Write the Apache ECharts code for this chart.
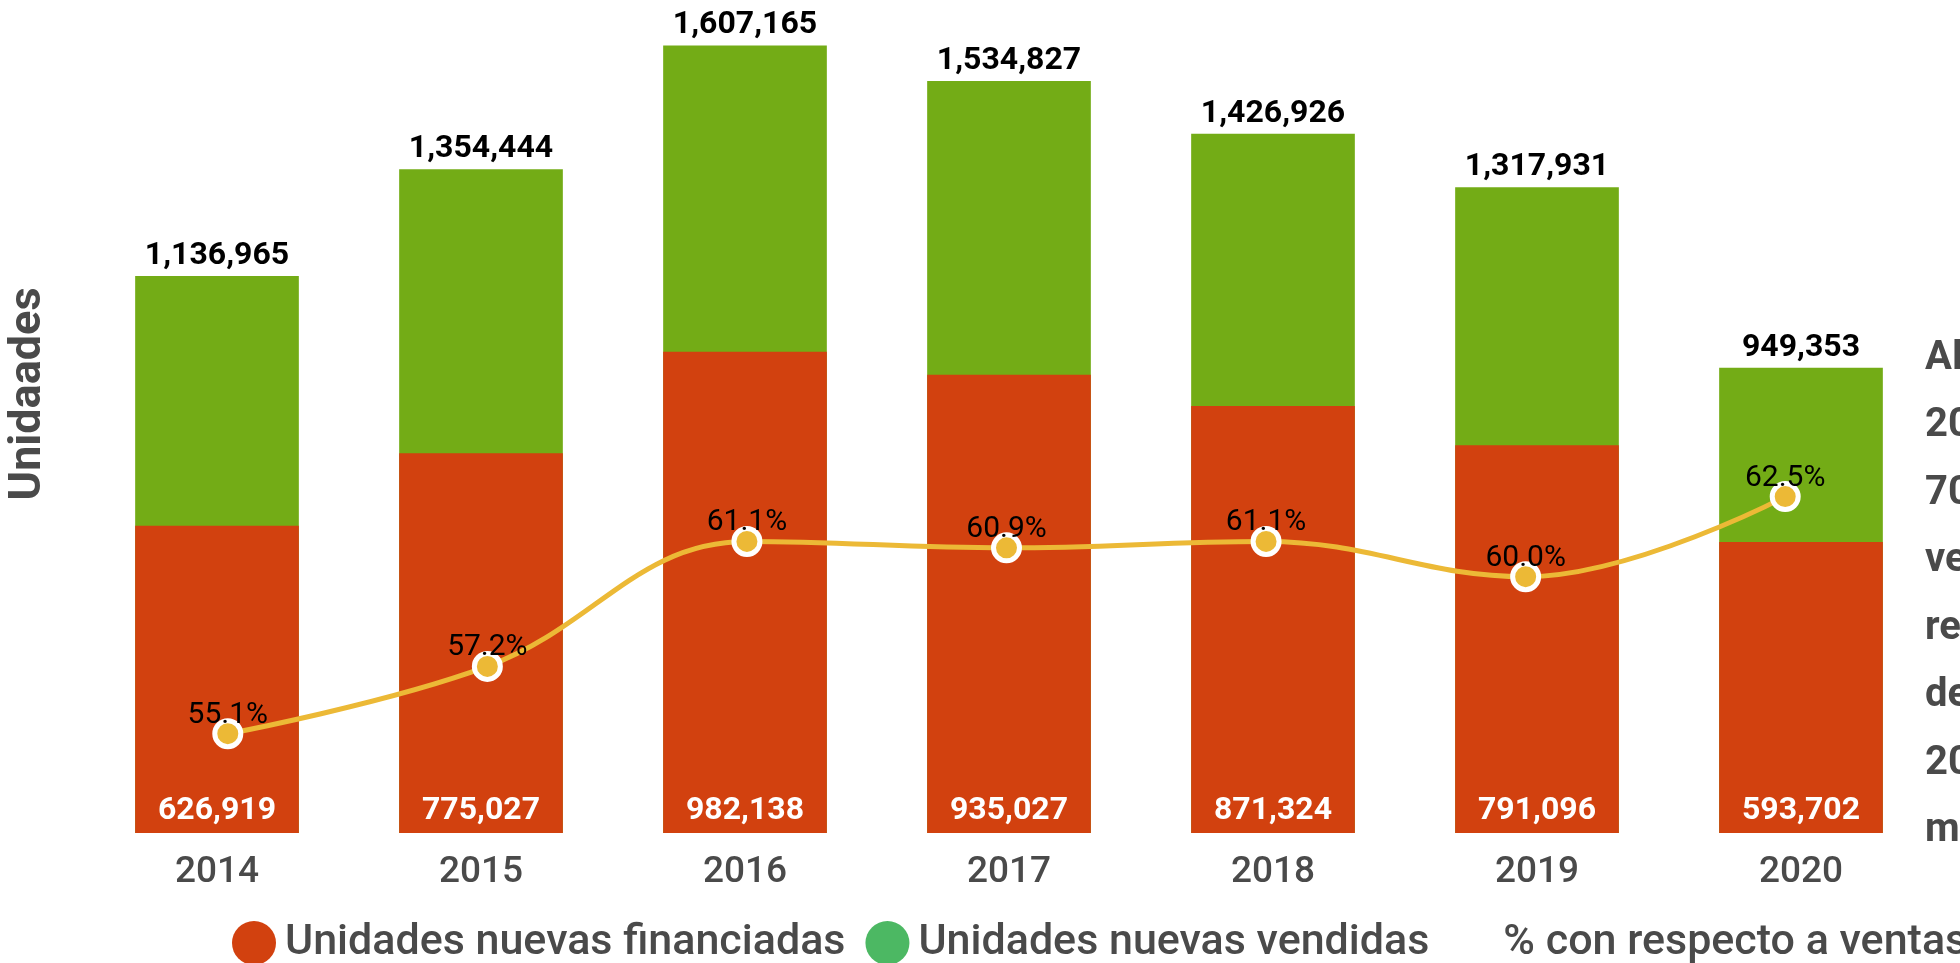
<!DOCTYPE html>
<html>
<head>
<meta charset="utf-8">
<script src="https://cdn.jsdelivr.net/npm/echarts@6/dist/echarts.min.js"></script>
<style>
  html, body { margin: 0; padding: 0; background: #fff; }
  #chart { width: 1960px; height: 963px; }
</style>
</head>
<body>
<div id="chart"></div>
<script>
// datos
var years = ['2014', '2015', '2016', '2017', '2018', '2019', '2020'];
var financiadas = [626919, 775027, 982138, 935027, 871324, 791096, 593702];
var vendidas = [1136965, 1354444, 1607165, 1534827, 1426926, 1317931, 949353];
var porcentaje = [55.1, 57.2, 61.1, 60.9, 61.1, 60.0, 62.5];

var rojo = '#d2410f';
var verde = '#73ac16';
var amarillo = '#ecb936';
var gris = '#4a4a4a';

function miles(v) {
  return Number(v).toLocaleString('en-US');
}

var chart = echarts.init(document.getElementById('chart'));
chart.setOption({
  backgroundColor: '#fff',
  animation: false,
  textStyle: { fontFamily: 'Roboto' },
  grid: [
    { left: 85, right: 27, top: 0, bottom: 130 },
    { left: 98, right: 45, top: 0, bottom: 130 }   // la línea va un poco desplazada
  ],
  legend: {
    top: 915,
    left: 227,
    width: 1900,
    itemWidth: 44,
    itemHeight: 44,
    itemGap: 20,
    textStyle: { fontSize: 43, fontWeight: 500, color: gris, padding: [0, 0, 0, 4] },
    data: [
      { name: 'Unidades nuevas financiadas', icon: 'circle', itemStyle: { color: rojo } },
      { name: 'Unidades nuevas vendidas', icon: 'circle', itemStyle: { color: '#4cb863' } },
      { name: '% con respecto a ventas', icon: 'circle', itemStyle: { opacity: 0 } }
    ]
  },
  xAxis: [{
    type: 'category',
    gridIndex: 0,
    data: years,
    axisLine: { show: false },
    axisTick: { show: false },
    axisLabel: { fontSize: 37, fontWeight: 500, color: gris, margin: 21 }
  }, {
    type: 'category',
    gridIndex: 1,
    data: years,
    show: false
  }],
  yAxis: [{
    type: 'value',
    gridIndex: 0,
    min: 0,
    max: 1700000,
    show: false
  }, {
    type: 'value',
    gridIndex: 1,
    min: 52,
    max: 78,
    show: false
  }],
  graphic: [{
    type: 'text',
    x: 29,
    y: 394,
    rotation: Math.PI / 2,
    style: {
      text: 'Unidaades',
      fontFamily: 'Roboto',
      fontSize: 45,
      fontWeight: 'bold',
      fill: gris,
      align: 'center',
      verticalAlign: 'middle'
    }
  }, {
    type: 'text',
    left: 1925,
    top: 325,
    style: {
      text: 'Al cierre de\n2020, cerca del\n70% de las\nventas se\nrealizaron a crédito,\ndesde\n2014 el\nmercado creció',
      fontFamily: 'Roboto',
      fontSize: 40,
      fontWeight: 'bold',
      lineHeight: 67.5,
      fill: gris
    }
  }],
  series: [{
    name: 'Unidades nuevas vendidas',
    type: 'bar',
    xAxisIndex: 0,
    yAxisIndex: 0,
    barWidth: '62%',
    itemStyle: { color: verde },
    label: {
      show: true,
      position: 'top',
      distance: 4,
      fontSize: 32,
      fontWeight: 'bold',
      color: '#000',
      formatter: function (p) { return miles(p.value); }
    },
    data: vendidas
  }, {
    name: 'Unidades nuevas financiadas',
    type: 'bar',
    xAxisIndex: 0,
    yAxisIndex: 0,
    barWidth: '62%',
    barGap: '-100%',
    itemStyle: { color: rojo },
    label: {
      show: true,
      position: 'insideBottom',
      distance: 6,
      fontSize: 32,
      fontWeight: 'bold',
      color: '#fff',
      formatter: function (p) { return miles(p.value); }
    },
    data: financiadas
  }, {
    name: '% con respecto a ventas',
    type: 'line',
    xAxisIndex: 1,
    yAxisIndex: 1,
    smooth: 0.4,
    z: 5,
    symbol: 'circle',
    symbolSize: 26,
    lineStyle: { color: amarillo, width: 5 },
    itemStyle: { color: amarillo, borderColor: '#fff', borderWidth: 5 },
    label: {
      show: true,
      position: 'top',
      distance: -12,
      fontSize: 30,
      color: '#000',
      formatter: function (p) { return p.value.toFixed(1) + '%'; }
    },
    data: porcentaje
  }]
});
</script>
</body>
</html>
